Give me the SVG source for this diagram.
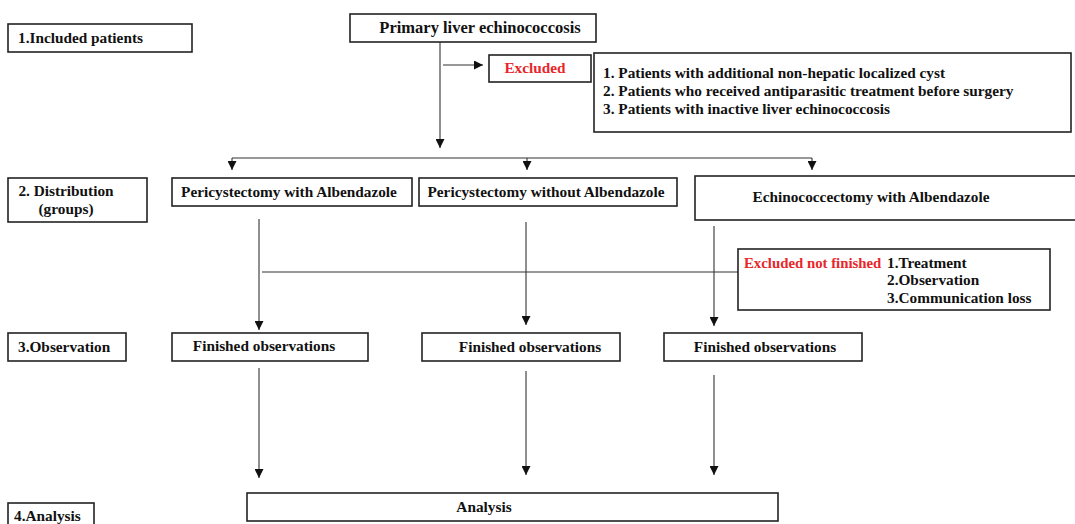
<svg xmlns="http://www.w3.org/2000/svg" width="1075" height="524" viewBox="0 0 1075 524">
<style>
.b{fill:#fff;stroke:#222;stroke-width:1.6}
.t{font-family:"Liberation Serif","Times New Roman",serif;font-weight:bold;font-size:15.3px;fill:#111}
.r{fill:#e8262b}
.c{stroke:#333;stroke-width:1.1;fill:none}
</style>
<defs>
<marker id="ah" viewBox="0 0 10 10" refX="10" refY="5" markerWidth="9" markerHeight="9" markerUnits="userSpaceOnUse" orient="auto">
<path d="M0,0 L10,5 L0,10 Z" fill="#111"/>
</marker>
</defs>
<rect width="1075" height="524" fill="#fff"/>
<g id="connectors">
<path class="c" d="M440,42 V148" marker-end="url(#ah)"/>
<path class="c" d="M443,65 H483" marker-end="url(#ah)"/>
<path class="c" d="M232,158 H812"/>
<path class="c" d="M232,158 V170" marker-end="url(#ah)"/>
<path class="c" d="M527,158 V170" marker-end="url(#ah)"/>
<path class="c" d="M812,158 V170" marker-end="url(#ah)"/>
<path class="c" d="M259,219 V330" marker-end="url(#ah)"/>
<path class="c" d="M526,222 V325" marker-end="url(#ah)"/>
<path class="c" d="M714,226 V326" marker-end="url(#ah)"/>
<path class="c" d="M262,272 H738"/>
<path class="c" d="M259,368 V478" marker-end="url(#ah)"/>
<path class="c" d="M526,371 V475" marker-end="url(#ah)"/>
<path class="c" d="M714,375 V475" marker-end="url(#ah)"/>
</g>
<g id="n-included"><rect class="b" x="8" y="24" width="184" height="28"/><text class="t" x="18" y="43">1.Included patients</text></g>
<g id="n-primary"><rect class="b" x="350" y="14" width="246" height="28"/><text class="t" x="480" y="33" text-anchor="middle" style="font-size:16.5px">Primary liver echinococcosis</text></g>
<g id="n-excluded"><rect class="b" x="489" y="55" width="102" height="27"/><text class="t r" x="535" y="73" text-anchor="middle">Excluded</text></g>
<g id="n-exlist"><rect class="b" x="594" y="53" width="477" height="79"/>
<text class="t" x="603" y="78">1. Patients with additional non-hepatic localized cyst</text>
<text class="t" x="603" y="96">2. Patients who received antiparasitic treatment before surgery</text>
<text class="t" x="603" y="114">3. Patients with inactive liver echinococcosis</text></g>
<g id="n-distribution"><rect class="b" x="8" y="178" width="139" height="44"/><text class="t" x="66" y="196" text-anchor="middle">2. Distribution</text><text class="t" x="66" y="214" text-anchor="middle">(groups)</text></g>
<g id="n-g1"><rect class="b" x="172" y="178" width="240" height="28"/><text class="t" x="289" y="197" text-anchor="middle">Pericystectomy with Albendazole</text></g>
<g id="n-g2"><rect class="b" x="419" y="178" width="258" height="28"/><text class="t" x="546" y="197" text-anchor="middle">Pericystectomy without Albendazole</text></g>
<g id="n-g3"><rect class="b" x="695" y="176" width="385" height="44"/><text class="t" x="871" y="202" text-anchor="middle">Echinococcectomy with Albendazole</text></g>
<g id="n-notfinished"><rect class="b" x="738" y="249" width="312" height="61"/>
<text class="t r" x="744" y="268" style="font-size:14.8px">Excluded not finished</text>
<text class="t" x="887" y="268">1.Treatment</text>
<text class="t" x="887" y="285">2.Observation</text>
<text class="t" x="887" y="303">3.Communication loss</text></g>
<g id="n-observation"><rect class="b" x="8" y="333" width="118" height="28"/><text class="t" x="18" y="352">3.Observation</text></g>
<g id="n-f1"><rect class="b" x="172" y="333" width="196" height="28"/><text class="t" x="264" y="351" text-anchor="middle">Finished observations</text></g>
<g id="n-f2"><rect class="b" x="422" y="333" width="198" height="28"/><text class="t" x="530" y="352" text-anchor="middle">Finished observations</text></g>
<g id="n-f3"><rect class="b" x="664" y="333" width="198" height="28"/><text class="t" x="765" y="352" text-anchor="middle">Finished observations</text></g>
<g id="n-analysislabel"><rect class="b" x="8" y="503" width="86" height="28"/><text class="t" x="14" y="521">4.Analysis</text></g>
<g id="n-analysis"><rect class="b" x="247" y="493" width="531" height="28"/><text class="t" x="484" y="512" text-anchor="middle">Analysis</text></g>
</svg>
